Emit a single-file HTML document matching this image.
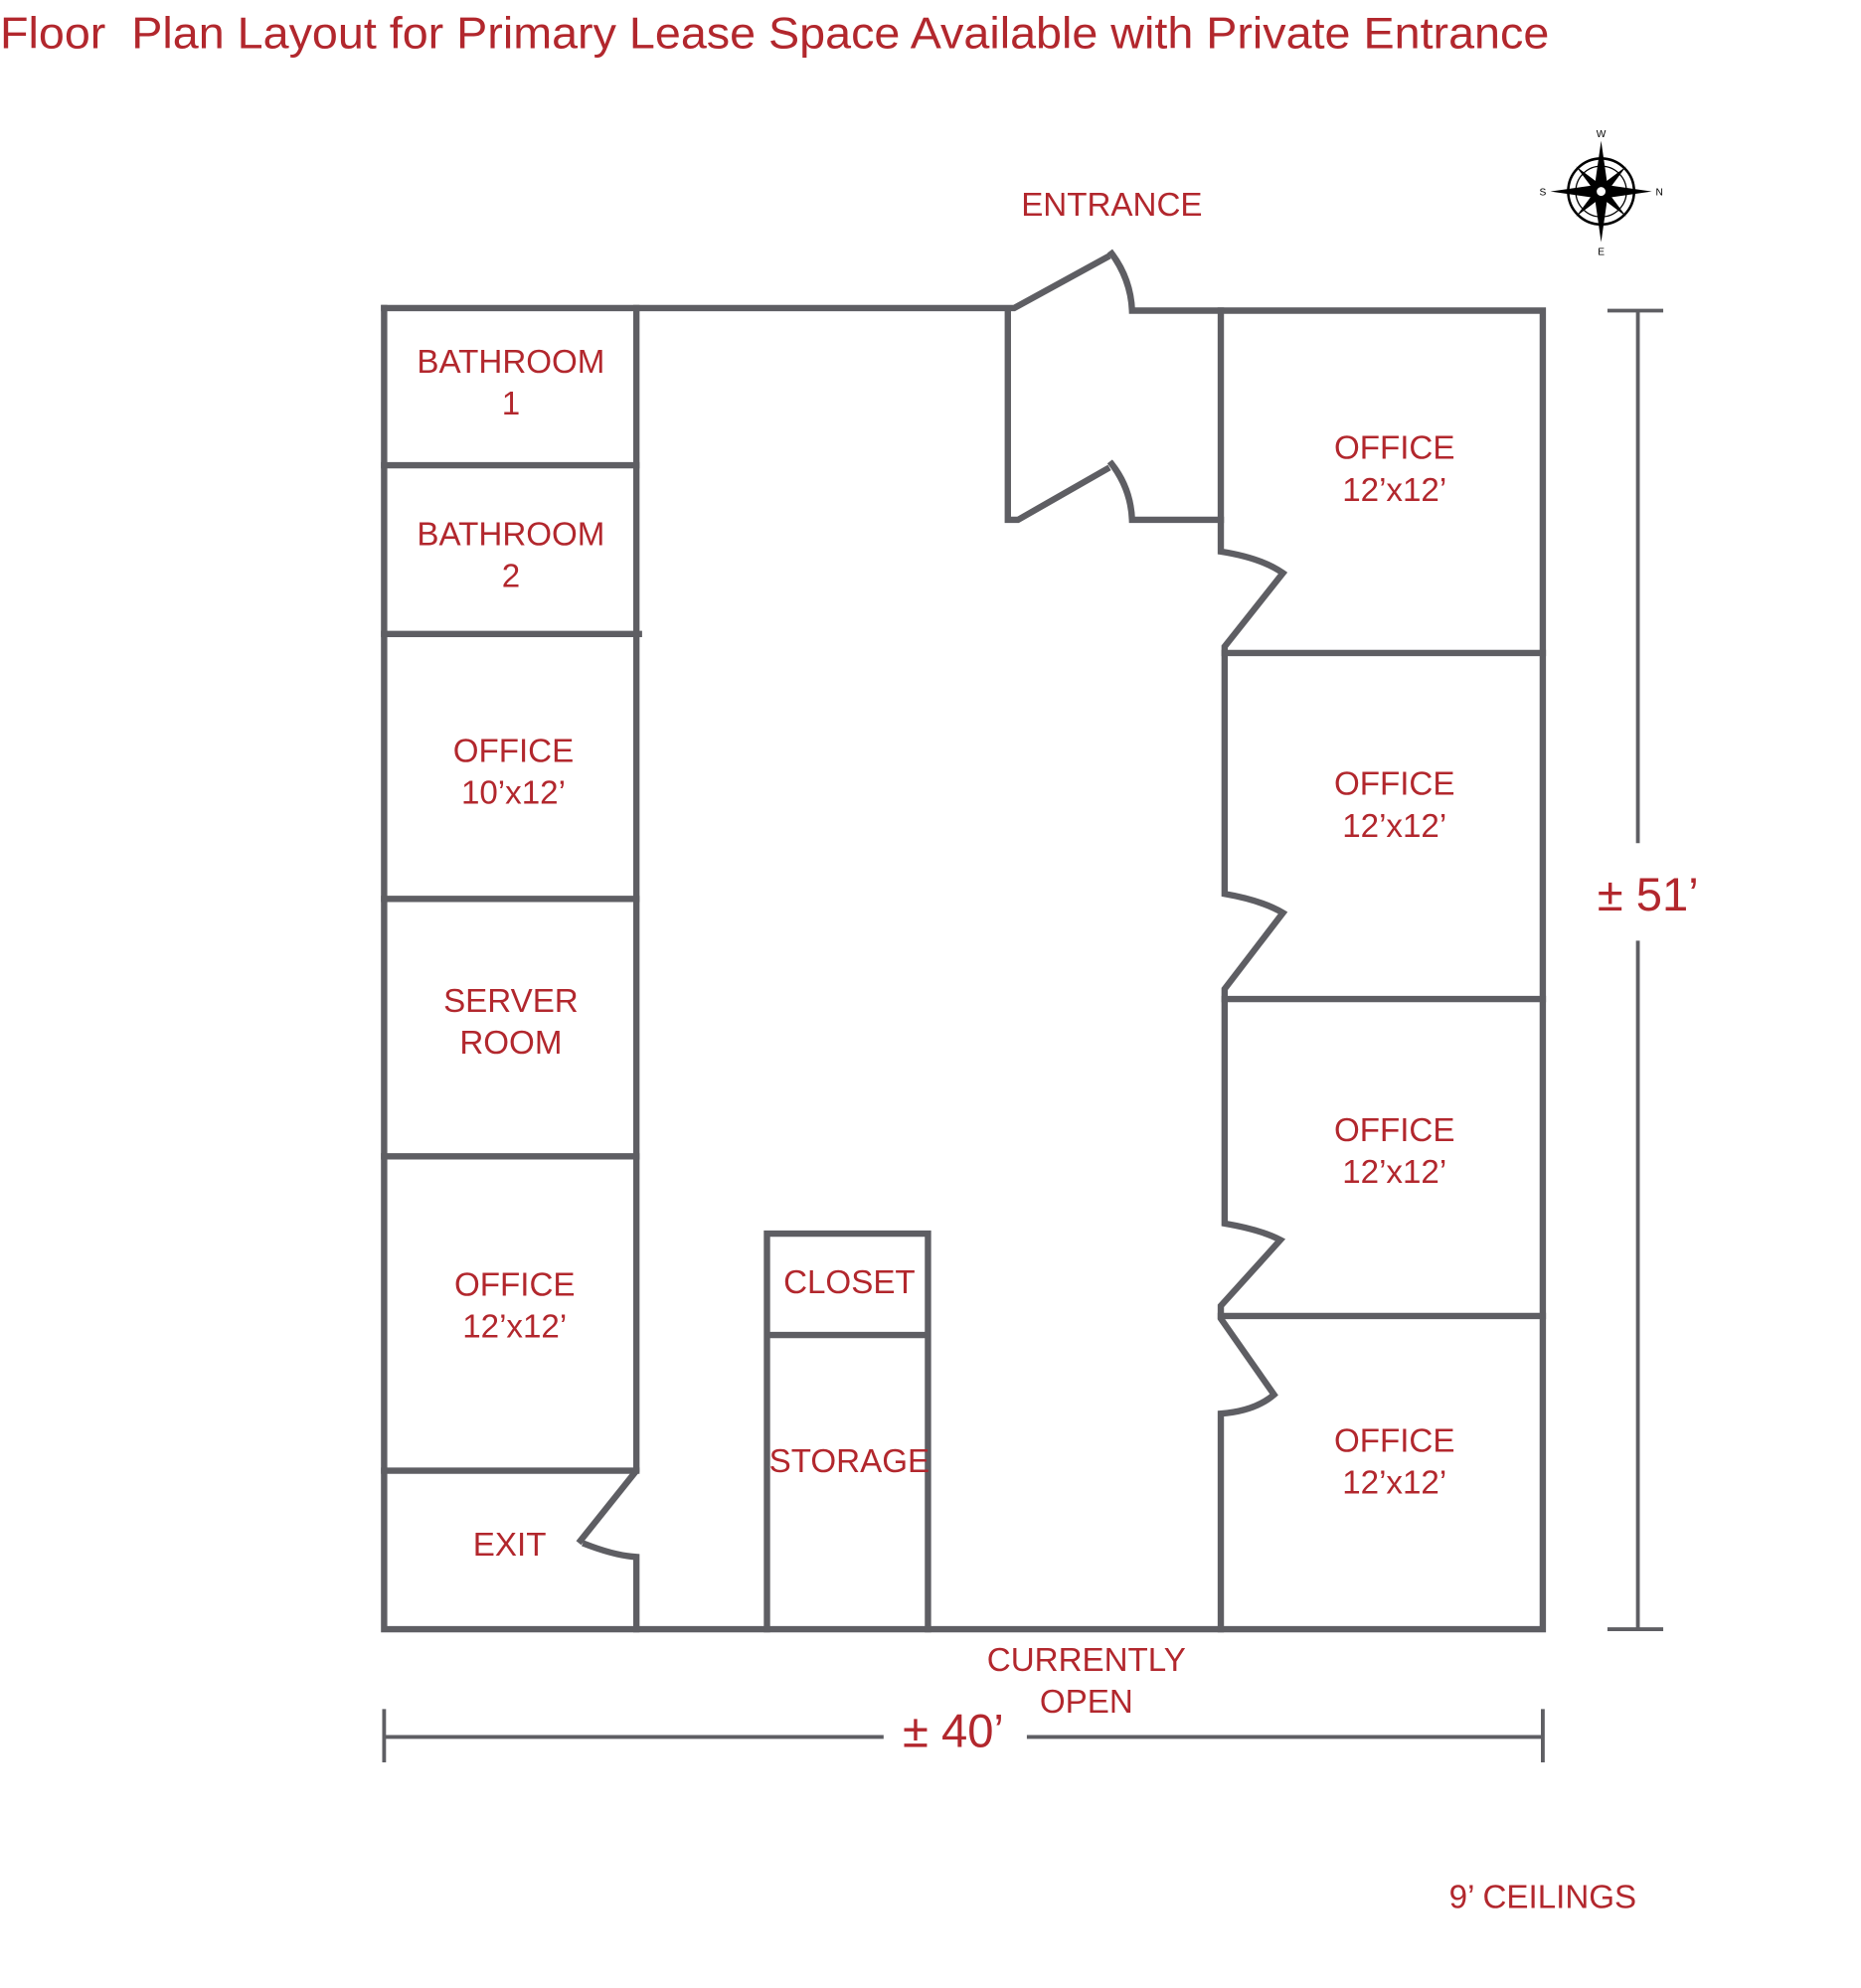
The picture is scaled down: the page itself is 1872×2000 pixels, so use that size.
<!DOCTYPE html>
<html><head><meta charset="utf-8"><style>
html,body{margin:0;padding:0;background:#fff;}
svg{display:block;}
text{font-family:"Liberation Sans",sans-serif;fill:#b2272d;}
</style></head><body>
<svg width="1872" height="2000" viewBox="0 0 1468 1568" preserveAspectRatio="none" xmlns="http://www.w3.org/2000/svg">
<text x="0" y="38" font-size="35" textLength="1222" lengthAdjust="spacingAndGlyphs">Floor&#160; Plan Layout for Primary Lease Space Available with Private Entrance</text>
<g fill="none" stroke="#5e5e63" stroke-width="5" stroke-linecap="square">
<path d="M303 243 H800 L873 203"/>
<path d="M877 200 Q892 220 893 245 H1217 V1285 H303 V243"/>
<path d="M502 243 V1160 L458 1215"/>
<path d="M462 1218 Q485 1227 502 1228 V1285"/>
<path d="M303 367 H502 M303 500 H504 M303 709 H502 M303 912 H502 M303 1160 H502"/>
<path d="M795 245 V410 H803 L873 370"/>
<path d="M877 366 Q892 385 893 410 H963"/>
<path d="M963 245 V435 Q995 440 1012 452 L966 510 V705 Q995 710 1012 720 L966 780 V965 Q995 970 1010 978 L963 1030 V1040 L1005 1100 Q990 1113 963 1115 V1285"/>
<path d="M966 515 H1217 M966 788 H1217 M963 1038 H1217"/>
<path d="M605 1285 V973 H732 V1285 M605 1053 H732"/>
</g>
<g stroke="#5e5e63" stroke-width="3" fill="none">
<path d="M1292 245 V665 M1292 742 V1285 M1268 245 H1312 M1268 1285 H1312"/>
<path d="M303 1370 H697 M810 1370 H1217 M303 1348 V1390 M1217 1348 V1390"/>
</g>
<g font-size="26" text-anchor="middle">
<text x="877" y="170">ENTRANCE</text>
<text x="403" y="294">BATHROOM</text><text x="403" y="327">1</text>
<text x="403" y="430">BATHROOM</text><text x="403" y="463">2</text>
<text x="405" y="601">OFFICE</text><text x="405" y="634">10’x12’</text>
<text x="403" y="798">SERVER</text><text x="403" y="831">ROOM</text>
<text x="406" y="1022">OFFICE</text><text x="406" y="1055">12’x12’</text>
<text x="402" y="1227">EXIT</text>
<text x="670" y="1020">CLOSET</text>
<text x="670" y="1161">STORAGE</text>
<text x="1100" y="362">OFFICE</text><text x="1100" y="395">12’x12’</text>
<text x="1100" y="627">OFFICE</text><text x="1100" y="660">12’x12’</text>
<text x="1100" y="900">OFFICE</text><text x="1100" y="933">12’x12’</text>
<text x="1100" y="1145">OFFICE</text><text x="1100" y="1178">12’x12’</text>
<text x="857" y="1318">CURRENTLY</text><text x="857" y="1351">OPEN</text>
<text x="1217" y="1505">9’ CEILINGS</text>
</g>
<text x="1300" y="718" font-size="37" text-anchor="middle">± 51’</text>
<text x="752" y="1378" font-size="37" text-anchor="middle">± 40’</text>
<g transform="translate(1263,151)">
<circle r="26" fill="none" stroke="#000" stroke-width="2"/>
<circle r="20" fill="none" stroke="#000" stroke-width="1"/>
<polygon points="0,-40 5,-5 40,0 5,5 0,40 -5,5 -40,0 -5,-5" fill="#000"/>
<polygon points="0,-40 5,-5 40,0 5,5 0,40 -5,5 -40,0 -5,-5" fill="#000" transform="rotate(45) scale(0.7)"/>
<circle r="4" fill="#fff" stroke="#000"/>
<g font-size="8" text-anchor="middle">
<text x="0" y="-43" style="fill:#000">W</text><text x="0" y="50" style="fill:#000">E</text>
<text x="-46" y="3" style="fill:#000">S</text><text x="46" y="3" style="fill:#000">N</text>
</g>
</g>
</svg>
</body></html>
